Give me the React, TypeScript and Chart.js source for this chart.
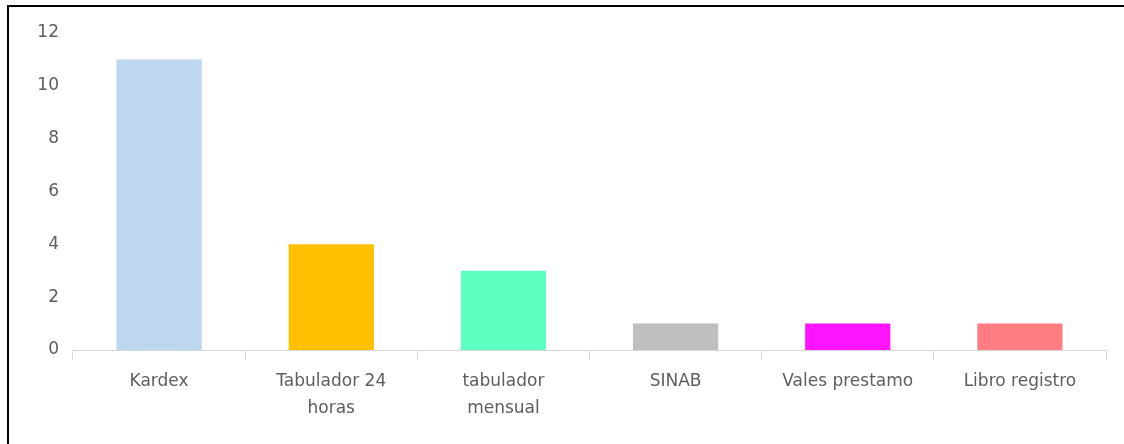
import React, { useEffect, useRef } from "react";
import { Chart, registerables } from "chart.js";

Chart.register(...registerables);

const categories: (string | string[])[] = [
  "Kardex",
  ["Tabulador 24", "horas"],
  ["tabulador", "mensual"],
  "SINAB",
  "Vales prestamo",
  "Libro registro",
];
const values: number[] = [11, 4, 3, 1, 1, 1];
const barColors: string[] = ["#BDD7EE", "#FFC000", "#5CFFC0", "#BFBFBF", "#FF14FF", "#FF7C80"];
const yTicks: number[] = [0, 2, 4, 6, 8, 10, 12];

export default function App() {
  const ref = useRef<HTMLCanvasElement>(null);
  useEffect(() => {
    if (!ref.current) return;
    const fontFamily = "'DejaVu Sans', sans-serif";
    const chart = new Chart(ref.current, {
      type: "bar",
      data: {
        labels: categories,
        datasets: [
          {
            data: values,
            backgroundColor: barColors,
            borderWidth: 0,
            categoryPercentage: 1,
            barPercentage: 0.495,
          },
        ],
      },
      options: {
        animation: false,
        responsive: false,
        maintainAspectRatio: false,
        plugins: { legend: { display: false }, tooltip: { enabled: false }, title: { display: false } },
        layout: { padding: { top: 33, right: 18, left: 0, bottom: 0 } },
        scales: {
          x: {
            grid: {
              display: true,
              drawOnChartArea: false,
              drawTicks: true,
              tickLength: 10,
              color: "#D9D9D9",
              lineWidth: 1,
            },
            border: { display: true, color: "#D9D9D9", width: 1 },
            ticks: {
              color: "#5E5E5E",
              font: { family: fontFamily, size: 17, lineHeight: 27 / 17 },
              padding: 8,
              maxRotation: 0,
              autoSkip: false,
            },
            afterFit: (s: any) => {
              s.height = 94;
            },
          },
          y: {
            min: 0,
            max: 12,
            afterBuildTicks: (s: any) => {
              s.ticks = yTicks.map((v) => ({ value: v }));
            },
            grid: { display: false, drawTicks: false },
            border: { display: false },
            ticks: {
              color: "#5E5E5E",
              font: { family: fontFamily, size: 17 },
              padding: 14,
            },
            afterFit: (s: any) => {
              s.width = 73;
            },
          },
        },
      },
    });
    return () => chart.destroy();
  }, []);
  return (
    <div style={{ position: "fixed", left: 0, top: 0, width: 1124, height: 444, background: "#fff" }}>
      <canvas ref={ref} width={1124} height={444} style={{ position: "absolute", left: 0, top: 0 }} />
      <div
        style={{
          position: "absolute",
          left: 7,
          top: 5,
          width: 1117,
          height: 439,
          borderTop: "2px solid #000",
          borderLeft: "2px solid #000",
          boxSizing: "border-box",
          pointerEvents: "none",
        }}
      />
    </div>
  );
}
